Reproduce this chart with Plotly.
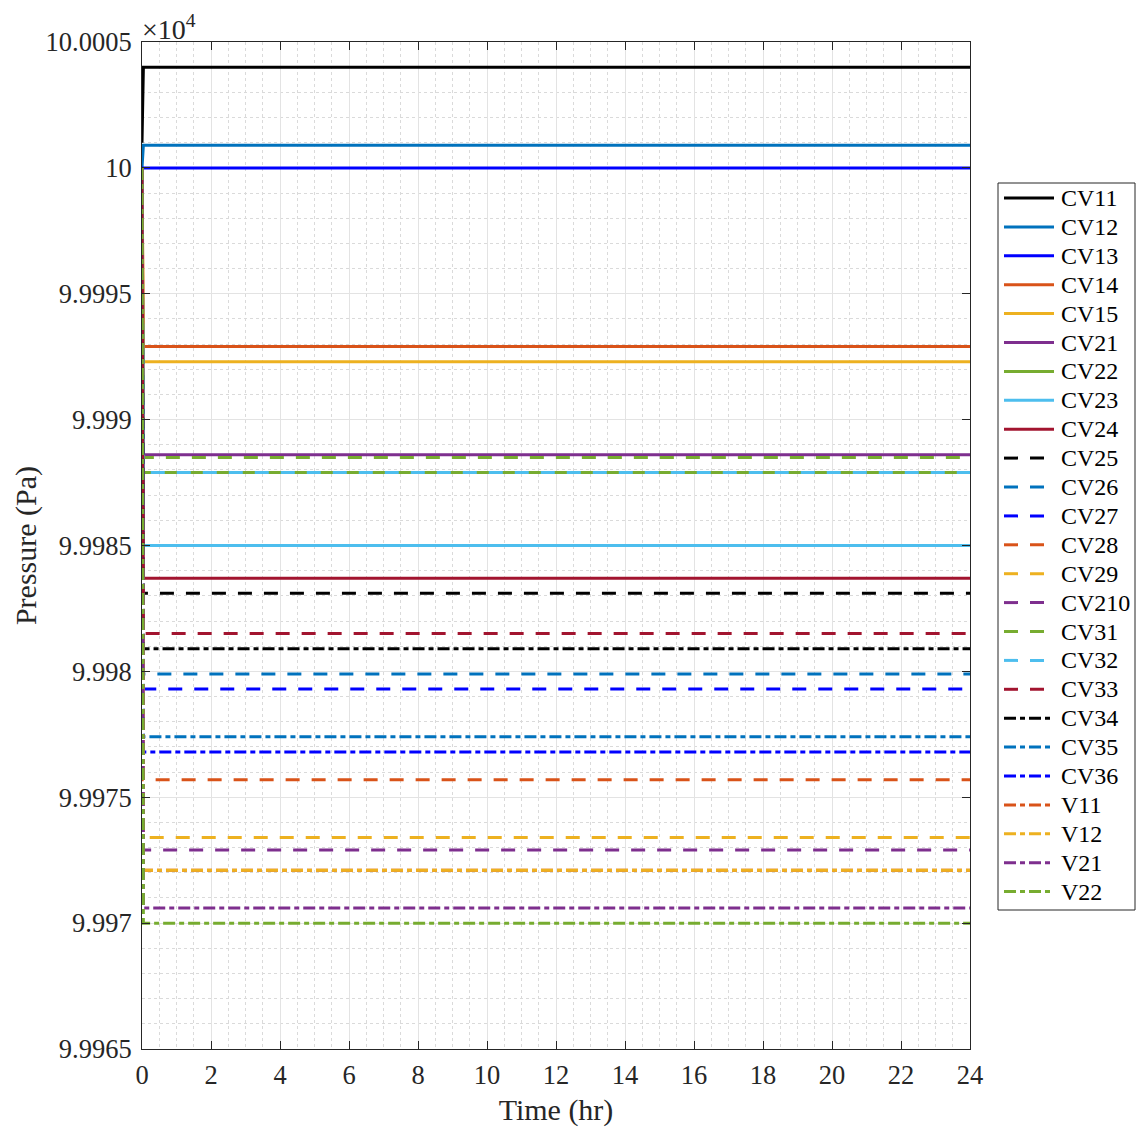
import plotly.graph_objects as go

# ---- data (pressure in units of 10^4 Pa, as displayed) ----
time_hr = [0.0, 0.04, 24.0]
series_names = ["CV11", "CV12", "CV13", "CV14", "CV15", "CV21", "CV22", "CV23", "CV24",
                "CV25", "CV26", "CV27", "CV28", "CV29", "CV210", "CV31", "CV32", "CV33",
                "CV34", "CV35", "CV36", "V11", "V12", "V21", "V22"]
start_values = [10.0001, 10.0000, 10.0000, 10.0000, 10.0000, 10.0000, 10.0000, 10.0000, 10.0000,
                10.0000, 10.0000, 10.0000, 10.0000, 10.0000, 10.0000, 10.0000, 10.0000, 10.0000,
                10.0000, 10.0000, 10.0000, 10.0000, 10.0000, 10.0000, 10.0000]
steady_values = [10.00040, 10.00009, 10.00000, 9.99929, 9.99923, 9.99886, 9.99879, 9.99850, 9.99837,
                 9.99831, 9.99799, 9.99793, 9.99757, 9.99734, 9.99729, 9.99885, 9.99879, 9.99815,
                 9.99809, 9.99774, 9.99768, 9.99721, 9.99721, 9.99706, 9.99700]

y_tick_vals = [10.0005, 10.0, 9.9995, 9.999, 9.9985, 9.998, 9.9975, 9.997, 9.9965]
y_tick_text = ["10.0005", "10", "9.9995", "9.999", "9.9985", "9.998", "9.9975", "9.997", "9.9965"]
x_tick_vals = [0, 2, 4, 6, 8, 10, 12, 14, 16, 18, 20, 22, 24]

# ---- styles ----
palette = ["#000000", "#0072BD", "#0000FF", "#D95319", "#EDB120", "#7E2F8E", "#77AC30", "#4DBEEE", "#A2142F"]
colors = palette + palette + palette[:7]
SOLID, DASH, DASHDOT = "solid", "14px,12px", "12px,4px,5px,4px"
dashes = [SOLID] * 9 + [DASH] * 9 + [DASHDOT] * 7

FONT = "Liberation Serif"
AX = "#262626"

# ---- layout geometry (pixels in the page) ----
PLOT_L, PLOT_R, PLOT_T, PLOT_B = 142, 970, 42, 1049
FIG_W, FIG_H = 1139, 1127


def px(x):
    return (x - PLOT_L) / (PLOT_R - PLOT_L)


def py(y):
    return (PLOT_B - y) / (PLOT_B - PLOT_T)


# legend box geometry
LEG_L, LEG_R, LEG_T, LEG_B = 998, 1135, 183, 910
LEG_LINE_X0, LEG_LINE_X1, LEG_TEXT_X = 1004, 1054, 1059
LEG_ROW0, LEG_ROW_STEP = 198, 28.9

fig = go.Figure()
for name, s0, s1, c, d in zip(series_names, start_values, steady_values, colors, dashes):
    fig.add_trace(go.Scatter(
        x=time_hr, y=[s0, s1, s1], mode="lines", name=name, showlegend=False,
        line=dict(color=c, width=3, dash=d),
    ))

shapes = [dict(type="rect", xref="paper", yref="paper",
               x0=px(LEG_L), x1=px(LEG_R), y0=py(LEG_B), y1=py(LEG_T),
               fillcolor="white", line=dict(color=AX, width=1), layer="above")]
annotations = []
for i, (name, c, d) in enumerate(zip(series_names, colors, dashes)):
    yy = py(LEG_ROW0 + i * LEG_ROW_STEP)
    shapes.append(dict(type="line", xref="paper", yref="paper",
                       x0=px(LEG_LINE_X0), x1=px(LEG_LINE_X1), y0=yy, y1=yy,
                       line=dict(color=c, width=3, dash=d), layer="above"))
    annotations.append(dict(text=name, xref="paper", yref="paper", x=px(LEG_TEXT_X), y=yy,
                            xanchor="left", yanchor="middle", showarrow=False,
                            font=dict(family=FONT, size=24, color="#000000")))

annotations.append(dict(
    text="×10<sup>4</sup>", xref="paper", yref="paper", x=0.0, y=1.0,
    xanchor="left", yanchor="bottom", showarrow=False,
    font=dict(family=FONT, size=28, color=AX), yshift=-5, xshift=-2,
))

fig.update_layout(
    width=FIG_W, height=FIG_H,
    margin=dict(l=PLOT_L, r=FIG_W - PLOT_R, t=PLOT_T, b=FIG_H - PLOT_B),
    plot_bgcolor="white", paper_bgcolor="white",
    font=dict(family=FONT, color=AX, size=26),
    showlegend=False,
    xaxis=dict(
        range=[0, 24], tickmode="array", tickvals=x_tick_vals,
        ticks="inside", ticklen=8, tickcolor=AX, tickwidth=1,
        showline=True, linecolor=AX, linewidth=1, mirror="ticks",
        showgrid=True, gridcolor="#E3E3E3", gridwidth=1,
        minor=dict(dtick=0.5, showgrid=True, gridcolor="#DADADA", griddash="dot", gridwidth=1),
        zeroline=False, automargin=False,
        tickfont=dict(family=FONT, size=26.5),
        ticklabelstandoff=2,
        title=dict(text="Time (hr)", font=dict(family=FONT, size=30), standoff=12),
    ),
    yaxis=dict(
        range=[9.9965, 10.0005], tickmode="array", tickvals=y_tick_vals, ticktext=y_tick_text,
        ticks="inside", ticklen=8, tickcolor=AX, tickwidth=1,
        showline=True, linecolor=AX, linewidth=1, mirror="ticks",
        showgrid=True, gridcolor="#E3E3E3", gridwidth=1,
        minor=dict(dtick=0.0001, tick0=9.9965, showgrid=True, gridcolor="#DADADA", griddash="dot", gridwidth=1),
        zeroline=False, automargin=False,
        tickfont=dict(family=FONT, size=26.5),
        ticklabelstandoff=4,
        title=dict(text="Pressure (Pa)", font=dict(family=FONT, size=30), standoff=0),
    ),
    shapes=shapes,
    annotations=annotations,
)

fig.write_html(
    "out.html",
    config={"displayModeBar": False},
    post_script="document.body.style.margin='0px';document.body.style.overflow='hidden';",
)
